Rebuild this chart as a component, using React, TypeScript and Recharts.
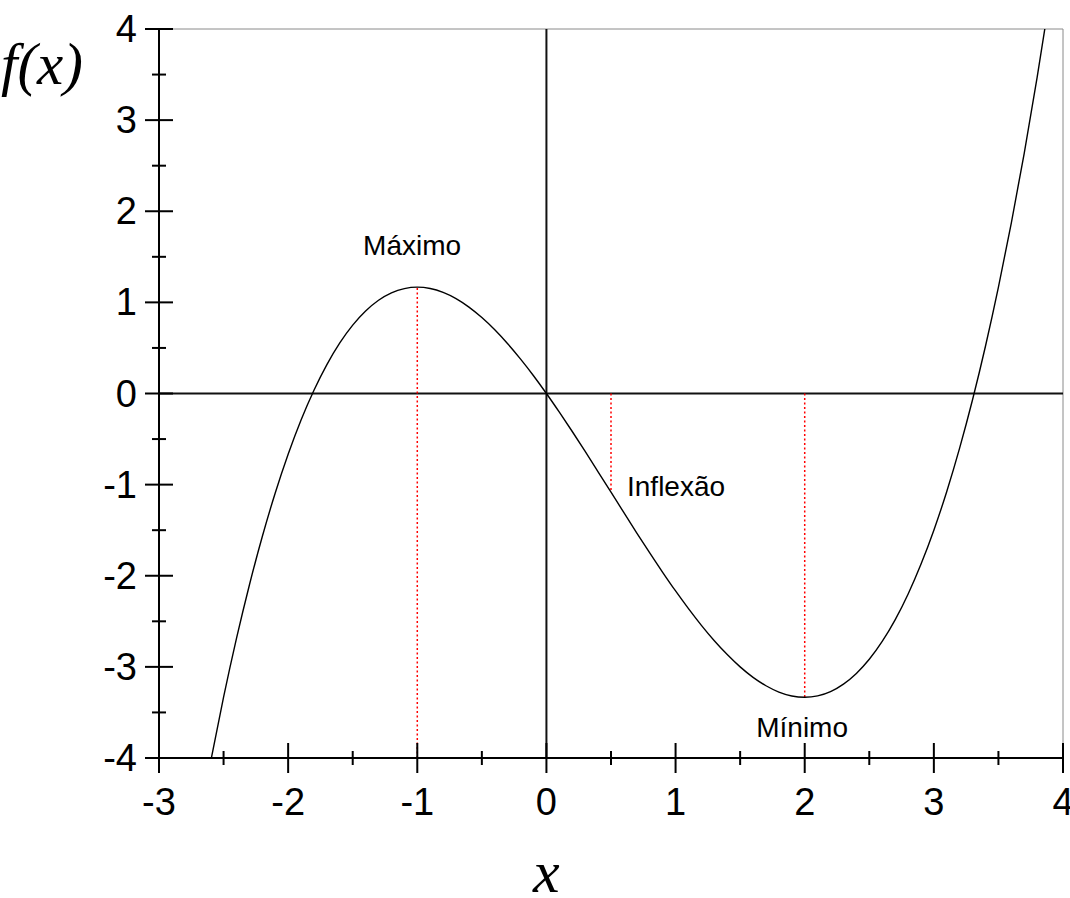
import { LineChart, Line, XAxis, YAxis, ReferenceLine, ReferenceDot, Label } from "recharts";

// sampled points of f(x)
const X_VALUES = [
  -2.6, -2.5, -2.4, -2.3, -2.2, -2.1, -2.0, -1.9, -1.8, -1.7, -1.6, -1.5, -1.4, -1.3,
  -1.2, -1.1, -1.0, -0.9, -0.8, -0.7, -0.6, -0.5, -0.4, -0.3, -0.2, -0.1, 0.0, 0.1,
  0.2, 0.3, 0.4, 0.5, 0.6, 0.7, 0.8, 0.9, 1.0, 1.1, 1.2, 1.3, 1.4, 1.5, 1.6, 1.7,
  1.8, 1.9, 2.0, 2.1, 2.2, 2.3, 2.4, 2.5, 2.6, 2.7, 2.8, 2.9, 3.0, 3.1, 3.2, 3.3,
  3.4, 3.5, 3.6, 3.7, 3.8, 3.9,
];
const F_VALUES = [
  -4.039, -3.333, -2.688, -2.101, -1.569, -1.092, -0.667, -0.291, 0.036, 0.317, 0.555,
  0.75, 0.905, 1.023, 1.104, 1.151, 1.167, 1.152, 1.109, 1.041, 0.948, 0.833, 0.699,
  0.546, 0.377, 0.195, 0.0, -0.205, -0.417, -0.636, -0.859, -1.083, -1.308, -1.531,
  -1.749, -1.962, -2.167, -2.361, -2.544, -2.713, -2.865, -3.0, -3.115, -3.207, -3.276,
  -3.319, -3.333, -3.318, -3.271, -3.189, -3.072, -2.917, -2.721, -2.484, -2.203,
  -1.875, -1.5, -1.075, -0.597, -0.066, 0.521, 1.167, 1.872, 2.639, 3.471, 4.368,
];

// maximum, inflection point, minimum
const MARK_X = [-1, 0.5, 2];
const MARK_Y = [1.167, -1.083, -3.333];
const MARK_BASE = [-4, 0, 0];

const X_TICKS = [-3, -2.5, -2, -1.5, -1, -0.5, 0, 0.5, 1, 1.5, 2, 2.5, 3, 3.5, 4];
const Y_TICKS = [-4, -3.5, -3, -2.5, -2, -1.5, -1, -0.5, 0, 0.5, 1, 1.5, 2, 2.5, 3, 3.5, 4];

const NOTES = [
  { text: "Máximo", x: -1.04, y: 1.515, anchor: "middle" },
  { text: "Inflexão", x: 0.624, y: -1.12, anchor: "start" },
  { text: "Mínimo", x: 1.98, y: -3.765, anchor: "middle" },
];

const data = X_VALUES.map((x, i) => ({ x, y: F_VALUES[i] }));

const W = 1070;
const H = 898;
const LEFT = 159;
const BOTTOM = 140;
const TOP = 29;
const AXIS_Y = H - BOTTOM;
const SANS = '"Liberation Sans", Arial, sans-serif';
const SERIF = '"Liberation Serif", "Times New Roman", serif';

function XTick({ x, payload }: any) {
  const major = Number.isInteger(payload.value);
  const len = major ? 15 : 7;
  return (
    <g>
      <line x1={x} x2={x} y1={AXIS_Y - len} y2={AXIS_Y + len} stroke="#000" strokeWidth={2} />
      {major && (
        <text x={x} y={AXIS_Y + 57} textAnchor="middle" fontFamily={SANS} fontSize={38} fill="#000">
          {payload.value}
        </text>
      )}
    </g>
  );
}

function YTick({ y, payload }: any) {
  const major = Number.isInteger(payload.value);
  const len = major ? 14 : 7;
  return (
    <g>
      <line x1={LEFT - len} x2={LEFT + len} y1={y} y2={y} stroke="#000" strokeWidth={2} />
      {major && (
        <text x={LEFT - 22} y={y + 13} textAnchor="end" fontFamily={SANS} fontSize={38} fill="#000">
          {payload.value}
        </text>
      )}
    </g>
  );
}

export default function App() {
  return (
    <div style={{ position: "absolute", left: 0, top: 0, background: "#fff" }}>
      <LineChart width={W} height={H} data={data} margin={{ top: TOP, right: 7, bottom: 0, left: 0 }}>
        <XAxis
          dataKey="x"
          type="number"
          domain={[-3, 4]}
          ticks={X_TICKS}
          interval={0}
          allowDataOverflow
          height={BOTTOM}
          tickLine={false}
          axisLine={{ stroke: "#000", strokeWidth: 2 }}
          tick={<XTick />}
        >
          <Label
            content={({ viewBox }: any) => (
              <text
                x={viewBox.x + (viewBox.width * 3) / 7}
                y={H - 6}
                textAnchor="middle"
                fontFamily={SERIF}
                fontStyle="italic"
                fontSize={60}
                fill="#000"
              >
                x
              </text>
            )}
          />
        </XAxis>
        <YAxis
          type="number"
          domain={[-4, 4]}
          ticks={Y_TICKS}
          interval={0}
          allowDataOverflow
          width={LEFT}
          tickLine={false}
          axisLine={{ stroke: "#000", strokeWidth: 2 }}
          tick={<YTick />}
        >
          <Label
            content={() => (
              <text x={1} y={84} fontFamily={SERIF} fontStyle="italic" fontSize={59} fill="#000">
                f(x)
              </text>
            )}
          />
        </YAxis>

        {/* frame on top and right */}
        <ReferenceLine y={4} stroke="#8a8a8a" strokeWidth={1} />
        <ReferenceLine x={4} stroke="#8a8a8a" strokeWidth={1} />

        {/* coordinate axes through the origin */}
        <ReferenceLine y={0} stroke="#111" strokeWidth={2} />
        <ReferenceLine x={0} stroke="#111" strokeWidth={2} />

        {MARK_X.map((mx, i) => (
          <ReferenceLine
            key={mx}
            segment={[
              { x: mx, y: MARK_BASE[i] },
              { x: mx, y: MARK_Y[i] },
            ]}
            stroke="#ff0000"
            strokeWidth={1.5}
            strokeDasharray="2 2.5"
          />
        ))}

        <Line
          dataKey="y"
          type="monotone"
          stroke="#000"
          strokeWidth={1.4}
          dot={false}
          activeDot={false}
          isAnimationActive={false}
        />

        {NOTES.map((n) => (
          <ReferenceDot
            key={n.text}
            x={n.x}
            y={n.y}
            r={0}
            fill="none"
            stroke="none"
            label={{
              content: ({ viewBox }: any) => (
                <text
                  x={viewBox.x}
                  y={viewBox.y}
                  textAnchor={n.anchor}
                  fontFamily={SANS}
                  fontSize={28}
                  fill="#000"
                >
                  {n.text}
                </text>
              ),
            }}
          />
        ))}
      </LineChart>
    </div>
  );
}
